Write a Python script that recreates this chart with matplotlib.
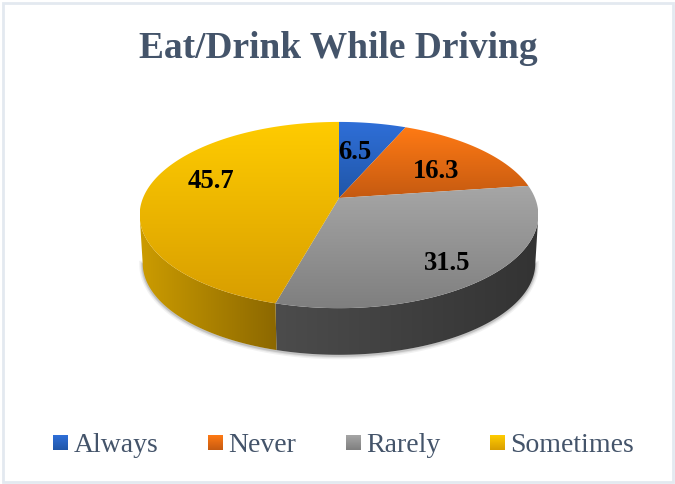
import numpy as np
import matplotlib
matplotlib.use('Agg')
import matplotlib.pyplot as plt
from matplotlib.patches import Polygon, Rectangle
from matplotlib.colors import LinearSegmentedColormap

title = 'Eat/Drink While Driving'
labels = ['Always', 'Never', 'Rarely', 'Sometimes']
values = [6.5, 16.3, 31.5, 45.7]

top_colors = [('#2f6fd8', '#2056a8'), ('#ff7a14', '#c55a11'),
              ('#a6a6a6', '#7f7f7f'), ('#ffcc00', '#d89e00')]
# left to right colours of the visible wall
side_colors = {2: ('#4c4c4c', '#333333'), 3: ('#cc9c00', '#8c6800')}
text_color = '#44546a'
frame_color = '#e3e9f0'

W, H = 675, 484

# perspective of the pie, all in pixels
cx, apex_y = 339, 198
a, b, k = 90, 196, 0.183
a2, b2, apex2_y = 88.5, 193, 246.5

# label placement: radius fraction and angle nudge per wedge
label_r = [0.585, 0.62, 0.79, 0.71]
label_shift = [-2.8, 5, 3, 9.3]
legend_x = [53, 208, 346, 490]


def project(t, r=1.0, aa=a, bb=b, ay=apex_y):
    x = r*np.sin(t)
    y = r*np.cos(t)
    w = 1 + k*y
    return cx + bb*x/w, ay - aa*y/w


def gradient(ax, clip, c0, c1, x0, x1, y0, y1, horizontal=False, z=3):
    cmap = LinearSegmentedColormap.from_list('g', [c0, c1])
    ramp = np.linspace(0, 1, 256)
    ramp = ramp.reshape(1, -1) if horizontal else ramp.reshape(-1, 1)
    im = ax.imshow(ramp, cmap=cmap, aspect='auto', extent=[x0, x1, y1, y0],
                   interpolation='bilinear', zorder=z)
    im.set_clip_path(clip)


fig = plt.figure(figsize=(W/100, H/100), dpi=100)
ax = fig.add_axes([0, 0, 1, 1])
ax.axis('off')

ax.add_patch(Rectangle((2.5, 2.5), W-5, H-5, fill=False, ec=frame_color, lw=2))

edges = np.cumsum([0] + values)/np.sum(values)*2*np.pi

# visible wall runs between the widest points of the ellipse
t_side = np.arccos(-k)

# soft shadow under the wall
tt = np.linspace(t_side, 2*np.pi - t_side, 200)
sx, sy = project(tt, aa=a2, bb=b2, ay=apex2_y)
for lw, al in zip([5, 3, 1.5], [0.08, 0.12, 0.2]):
    ax.plot(sx, sy+1, color='#555555', lw=lw, alpha=al, zorder=1)

# side wall
for i in [2, 3]:
    t = np.linspace(max(edges[i], t_side), min(edges[i+1], 2*np.pi - t_side), 200)
    x1, y1 = project(t)
    x2, y2 = project(t, aa=a2, bb=b2, ay=apex2_y)
    px = np.r_[x1, x2[::-1]]
    py = np.r_[y1, y2[::-1]]
    clip = Polygon(np.c_[px, py], closed=True, transform=ax.transData, fc='none', ec='none')
    ax.add_patch(clip)
    gradient(ax, clip, side_colors[i][0], side_colors[i][1], px.min(), px.max(),
             py.min(), py.max(), horizontal=True, z=2)

# top faces
for i in range(4):
    t = np.linspace(edges[i], edges[i+1], 200)
    x, y = project(t)
    px = np.r_[cx, x]
    py = np.r_[apex_y, y]
    clip = Polygon(np.c_[px, py], closed=True, transform=ax.transData, fc='none', ec='none')
    ax.add_patch(clip)
    gradient(ax, clip, top_colors[i][0], top_colors[i][1], px.min(), px.max(), py.min(), py.max())

# value labels
for i in range(4):
    mid = (edges[i] + edges[i+1])/2 + np.deg2rad(label_shift[i])
    lx, ly = project(mid, label_r[i])
    ax.text(lx, ly+2, '%.1f' % values[i], ha='center', va='center', fontsize=19.2,
            fontweight='bold', family='Liberation Serif', color='black', zorder=5)

ax.text(338.5, 58, title, ha='center', va='baseline', fontsize=26.9, fontweight='bold',
        family='Liberation Serif', color=text_color)

# legend
for i in range(4):
    sq = Rectangle((legend_x[i], 435), 15, 15, fc='none', ec='none', transform=ax.transData)
    ax.add_patch(sq)
    gradient(ax, sq, top_colors[i][0], top_colors[i][1], legend_x[i], legend_x[i]+15, 435, 450)
    ax.text(legend_x[i]+20.5, 442.5, labels[i], ha='left', va='center_baseline', fontsize=20,
            family='Liberation Serif', color=text_color)

ax.set_xlim(0, W)
ax.set_ylim(H, 0)
fig.savefig('out.png', dpi=100)
